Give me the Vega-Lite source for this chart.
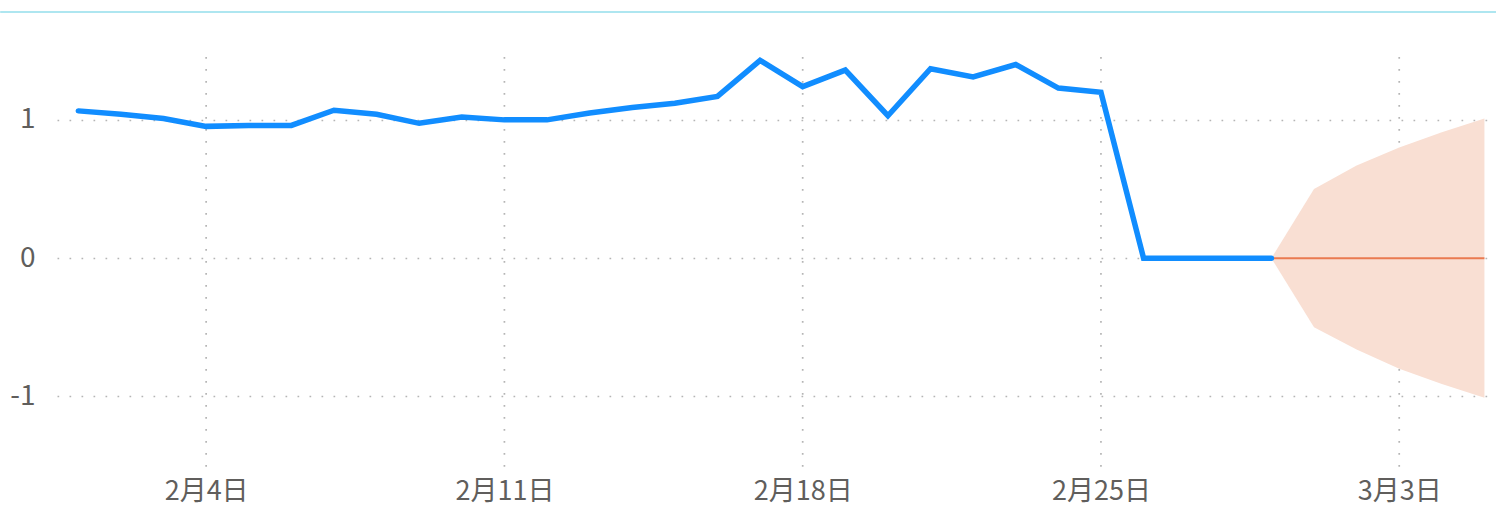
{
  "$schema": "https://vega.github.io/schema/vega-lite/v6.json",
  "autosize": "none",
  "width": 1431,
  "height": 455,
  "padding": {"left": 57, "top": 12, "right": 8, "bottom": 42},
  "background": "white",
  "config": {"view": {"stroke": null}, "font": "Noto Sans CJK SC"},
  "datasets": {
    "actual": [
      {"date": "2024-02-01", "value": 1.065},
      {"date": "2024-02-02", "value": 1.04},
      {"date": "2024-02-03", "value": 1.01},
      {"date": "2024-02-04", "value": 0.953},
      {"date": "2024-02-05", "value": 0.96},
      {"date": "2024-02-06", "value": 0.96},
      {"date": "2024-02-07", "value": 1.07},
      {"date": "2024-02-08", "value": 1.04},
      {"date": "2024-02-09", "value": 0.975},
      {"date": "2024-02-10", "value": 1.02},
      {"date": "2024-02-11", "value": 1.0},
      {"date": "2024-02-12", "value": 1.0},
      {"date": "2024-02-13", "value": 1.05},
      {"date": "2024-02-14", "value": 1.09},
      {"date": "2024-02-15", "value": 1.12},
      {"date": "2024-02-16", "value": 1.17},
      {"date": "2024-02-17", "value": 1.43},
      {"date": "2024-02-18", "value": 1.24},
      {"date": "2024-02-19", "value": 1.36},
      {"date": "2024-02-20", "value": 1.03},
      {"date": "2024-02-21", "value": 1.37},
      {"date": "2024-02-22", "value": 1.31},
      {"date": "2024-02-23", "value": 1.40},
      {"date": "2024-02-24", "value": 1.23},
      {"date": "2024-02-25", "value": 1.20},
      {"date": "2024-02-26", "value": 0},
      {"date": "2024-02-27", "value": 0},
      {"date": "2024-02-28", "value": 0},
      {"date": "2024-02-29", "value": 0}
    ],
    "forecast": [
      {"date": "2024-02-29", "value": 0, "lo": 0, "hi": 0},
      {"date": "2024-03-01", "value": 0, "lo": -0.5, "hi": 0.5},
      {"date": "2024-03-02", "value": 0, "lo": -0.66, "hi": 0.67},
      {"date": "2024-03-03", "value": 0, "lo": -0.8, "hi": 0.8},
      {"date": "2024-03-04", "value": 0, "lo": -0.91, "hi": 0.91},
      {"date": "2024-03-05", "value": 0, "lo": -1.01, "hi": 1.01}
    ],
    "ticks": [
      {"date": "2024-02-04"},
      {"date": "2024-02-11"},
      {"date": "2024-02-18"},
      {"date": "2024-02-25"},
      {"date": "2024-03-03"}
    ],
    "topline": [
      {"start": "2024-01-30T04:00:00Z", "end": "2024-03-05T07:00:00Z", "y": 1.78}
    ]
  },
  "layer": [
    {
      "data": {"name": "topline"},
      "mark": {"type": "rule", "color": "#aee6f0", "strokeWidth": 2, "clip": false},
      "encoding": {
        "x": {"field": "start", "type": "temporal"},
        "x2": {"field": "end"},
        "y": {"field": "y", "type": "quantitative"}
      }
    },
    {
      "data": {"name": "ticks"},
      "mark": {"type": "rule", "color": "#b5b5b5", "strokeWidth": 1.7, "strokeDash": [1.7, 10.3]},
      "encoding": {
        "x": {"field": "date", "type": "temporal"},
        "y": {"datum": 1.455},
        "y2": {"datum": -1.51}
      }
    },
    {
      "data": {"name": "forecast"},
      "mark": {"type": "area", "color": "#f9dfd3", "opacity": 1},
      "encoding": {
        "x": {"field": "date", "type": "temporal"},
        "y": {"field": "hi", "type": "quantitative"},
        "y2": {"field": "lo"}
      }
    },
    {
      "data": {"name": "forecast"},
      "mark": {"type": "line", "color": "#ea7a50", "strokeWidth": 2},
      "encoding": {
        "x": {"field": "date", "type": "temporal"},
        "y": {"field": "value", "type": "quantitative"}
      }
    },
    {
      "data": {"name": "actual"},
      "mark": {"type": "line", "color": "#118dff", "strokeWidth": 5.5, "strokeCap": "round"},
      "encoding": {
        "x": {
          "field": "date",
          "type": "temporal",
          "scale": {
            "type": "utc",
            "domain": [
              {"year": 2024, "month": 1, "date": 31, "hours": 12, "utc": true},
              {"year": 2024, "month": 3, "date": 5, "hours": 2, "utc": true}
            ]
          },
          "axis": {
            "title": null,
            "values": [
              {"year": 2024, "month": 2, "date": 4, "utc": true},
              {"year": 2024, "month": 2, "date": 11, "utc": true},
              {"year": 2024, "month": 2, "date": 18, "utc": true},
              {"year": 2024, "month": 2, "date": 25, "utc": true},
              {"year": 2024, "month": 3, "date": 3, "utc": true}
            ],
            "labelExpr": "utcFormat(datum.value, '%-m月%-d日')",
            "grid": false,
            "domain": false,
            "ticks": false,
            "labelFontSize": 27,
            "labelColor": "#605e5c",
            "labelPadding": 11,
            "labelFont": "Noto Sans CJK SC"
          }
        },
        "y": {
          "field": "value",
          "type": "quantitative",
          "scale": {"domain": [-1.51, 1.78], "nice": false, "zero": false},
          "axis": {
            "title": null,
            "values": [-1, 0, 1],
            "labelExpr": "datum.value < 0 ? '-' + abs(datum.value) : '' + datum.value",
            "domain": false,
            "ticks": false,
            "grid": true,
            "gridColor": "#b5b5b5",
            "gridWidth": 1.7,
            "gridDash": [1.7, 10.3],
            "labelFontSize": 28,
            "labelColor": "#605e5c",
            "labelPadding": 22,
            "labelFont": "Noto Sans CJK SC"
          }
        }
      }
    }
  ]
}
